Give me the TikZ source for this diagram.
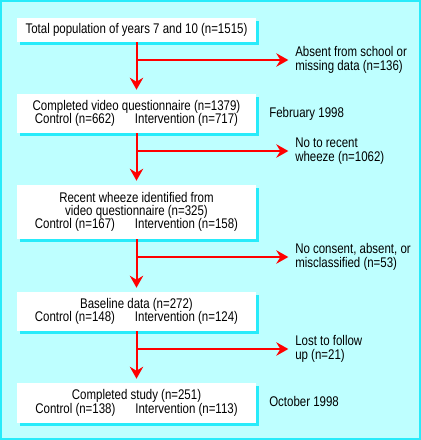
\documentclass[tikz,border=0pt]{standalone}
\usepackage{fontspec}
\setmainfont{Liberation Sans}[FakeStretch=0.82]
\usetikzlibrary{arrows.meta, shadows}

\definecolor{panel}{RGB}{190,255,255}
\definecolor{rim}{RGB}{40,235,250}

\begin{document}
\begin{tikzpicture}[x=0.75pt, y=-0.75pt]
\useasboundingbox (0,0) rectangle (421,440);
\fill[panel] (0,0) rectangle (421,440);
\draw[rim, line width=1.5pt] (1,1) rectangle (420,439);

\begin{scope}[every node/.style={rectangle, fill=white, align=center, inner sep=0pt,
              minimum width=179.25pt, font=\fontsize{10.5}{10}\selectfont,
              drop shadow={shadow xshift=2pt, shadow yshift=-2pt, fill=rim, opacity=1}}]
    \node (total) at (136.5,30) [minimum height=18pt] {Total population of years 7 and 10 (n=1515)};
    \node (video) at (136.5,113.5) [minimum height=29.25pt] {Completed video questionnaire (n=1379)\\Control (n=662)\hspace{15pt}Intervention (n=717)};
    \node (wheeze) at (136.5,212) [minimum height=40.5pt] {Recent wheeze identified from\\video questionnaire (n=325)\\Control (n=167)\hspace{15pt}Intervention (n=158)};
    \node (baseline) at (136.5,311.5) [minimum height=29.25pt] {Baseline data (n=272)\\Control (n=148)\hspace{15pt}Intervention (n=124)};
    \node (study) at (136.5,403) [minimum height=30pt] {Completed study (n=251)\\Control (n=138)\hspace{15pt}Intervention (n=113)};
\end{scope}

\begin{scope}[every node/.style={anchor=west, align=left, inner sep=0pt,
              font=\fontsize{10.5}{11}\selectfont}]
    \node (absent) at (295,60) {Absent from school or\\missing data (n=136)};
    \node (nowheeze) at (295,151) {No to recent\\wheeze (n=1062)};
    \node (noconsent) at (295,257) {No consent, absent, or\\misclassified (n=53)};
    \node (lost) at (295,349) {Lost to follow\\up (n=21)};
    \node (feb) at (269,113.5) {February 1998};
    \node (oct) at (269,401) {October 1998};
\end{scope}

\coordinate (split1) at (total.center |- absent.west);
\coordinate (split2) at (total.center |- nowheeze.west);
\coordinate (split3) at (total.center |- noconsent.west);
\coordinate (split4) at (total.center |- lost.west);

\begin{scope}[>={Stealth[red, length=9pt, width=10pt, inset=3pt]},
              every edge/.style={draw=red, line width=1.5pt}]
    \path [->] (total) edge [shorten >=3pt] (video);
    \path [->] (video) edge [shorten >=3pt] (wheeze);
    \path [->] (wheeze) edge [shorten >=3pt] (baseline);
    \path [->] (baseline) edge [shorten >=3pt] (study);
    \path [->] (split1) edge [shorten >=5pt] (absent.west);
    \path [->] (split2) edge [shorten >=5pt] (nowheeze.west);
    \path [->] (split3) edge [shorten >=5pt] (noconsent.west);
    \path [->] (split4) edge [shorten >=5pt] (lost.west);
\end{scope}
\end{tikzpicture}
\end{document}
